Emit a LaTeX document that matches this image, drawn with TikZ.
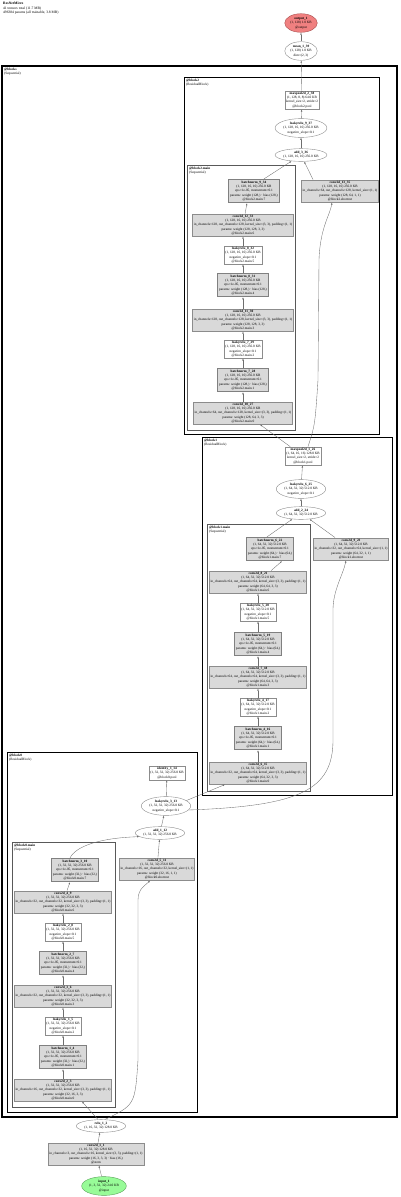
\documentclass[tikz,border=0pt]{standalone}
\usepackage{fontspec}
\setmainfont{Liberation Serif}
\definecolor{OpFill}{RGB}{217,217,217}
\definecolor{OpLine}{RGB}{140,140,140}
\definecolor{InGreen}{RGB}{152,251,152}
\definecolor{InLine}{RGB}{90,160,90}
\definecolor{OutRed}{RGB}{240,128,128}
\definecolor{OutLine}{RGB}{170,80,80}
\definecolor{EdgeGray}{RGB}{110,110,110}
\usepackage{tikz}
\usetikzlibrary{
    shapes.geometric,
    arrows.meta,
}

\begin{document}
\begin{tikzpicture}[x=1pt, y=-1pt,
    tiny/.style={font=\fontsize{3.4}{4.3}\selectfont},
    opbox/.style={rectangle, draw=OpLine, fill=OpFill, line width=0.4pt, inner sep=1.2pt, align=center, tiny},
    normbox/.style={opbox, draw=black!50, line width=1pt, inner sep=1.5pt},
    actbox/.style={opbox, fill=white},
    opoval/.style={ellipse, draw=OpLine, fill=white, line width=0.4pt, inner sep=0.8pt, align=center, tiny},
    inoval/.style={opoval, fill=InGreen, draw=InLine},
    outoval/.style={opoval, fill=OutRed, draw=OutLine},
    grp/.style={draw=black, line width=0.8pt},
    subgrp/.style={draw=black!65, line width=0.9pt},
    grplbl/.style={anchor=north west, align=left, inner sep=1pt, tiny},
    arr/.style={-{Latex[length=2.2pt, width=1.6pt]}, line width=0.35pt, draw=EdgeGray}
]
    \useasboundingbox (0,0) rectangle (400,1197);
    \node[grplbl, font=\fontsize{3.6}{4.4}\selectfont] (title) at (2,1)
        {\textbf{ResNetMicro}\\41 tensors total (11.7 MB)\\496384 params (all trainable, 3.8 MB)};

    % groups
    \draw[grp, line width=1.1pt] (2,66) rectangle (397,1117);
    \node[grplbl] (lblblocks) at (3,67) {\textbf{@blocks}\\(Sequential)};
    \draw[grp] (184,77) rectangle (379,434);
    \node[grplbl] (lblb2) at (185,78) {\textbf{@block2}\\(ResidualBlock)};
    \draw[subgrp] (187,165) rectangle (295,430);
    \node[grplbl] (lblb2m) at (188,166) {\textbf{@block2.main}\\(Sequential)};
    \draw[grp] (202,437) rectangle (392,795);
    \node[grplbl] (lblb1) at (203,438) {\textbf{@block1}\\(ResidualBlock)};
    \draw[subgrp] (207,524) rectangle (310,791);
    \node[grplbl] (lblb1m) at (208,525) {\textbf{@block1.main}\\(Sequential)};
    \draw[grp] (7,752) rectangle (197,1112);
    \node[grplbl] (lblb0) at (8,753) {\textbf{@block0}\\(ResidualBlock)};
    \draw[subgrp] (12,842) rectangle (115,1107);
    \node[grplbl] (lblb0m) at (13,843) {\textbf{@block0.main}\\(Sequential)};

    % output side
    \node[outoval] (out1) at (301,23) {\textbf{output\_1}\\(1, 128) 1.0 KB\\@output};
    \node[opoval] (mean39) at (301,51) {\textbf{mean\_1\_39}\\(1, 128) 1.0 KB\\dim=(2, 3)};

    % block2
    \node[actbox] (pool38) at (302,100) {\textbf{maxpool2d\_2\_38}\\(1, 128, 8, 8) 64.0 KB\\kernel\_size=2, stride=2\\@block2.pool};
    \node[opoval] (lrelu37) at (301,128) {\textbf{leakyrelu\_9\_37}\\(1, 128, 16, 16) 256.0 KB\\negative\_slope=0.1};
    \node[opoval] (add36) at (301,155) {\textbf{add\_3\_36}\\(1, 128, 16, 16) 256.0 KB};
    \node[normbox] (bn34) at (254,191) {\textbf{batchnorm\_9\_34}\\(1, 128, 16, 16) 256.0 KB\\eps=1e-05, momentum=0.1\\params: weight (128,) · bias (128,)\\@block2.main.7};
    \node[opbox] (conv35) at (340,191) {\textbf{conv2d\_13\_35}\\(1, 128, 16, 16) 256.0 KB\\in\_channels=64, out\_channels=128, kernel\_size=(1, 1)\\params: weight (128, 64, 1, 1)\\@block2.shortcut};
    \node[opbox] (conv33) at (243,225) {\textbf{conv2d\_12\_33}\\(1, 128, 16, 16) 256.0 KB\\in\_channels=128, out\_channels=128, kernel\_size=(3, 3), padding=(1, 1)\\params: weight (128, 128, 3, 3)\\@block2.main.6};
    \node[actbox] (lrelu32) at (243,255) {\textbf{leakyrelu\_8\_32}\\(1, 128, 16, 16) 256.0 KB\\negative\_slope=0.1\\@block2.main.5};
    \node[normbox] (bn31) at (243,285) {\textbf{batchnorm\_8\_31}\\(1, 128, 16, 16) 256.0 KB\\eps=1e-05, momentum=0.1\\params: weight (128,) · bias (128,)\\@block2.main.4};
    \node[opbox] (conv30) at (243,320) {\textbf{conv2d\_11\_30}\\(1, 128, 16, 16) 256.0 KB\\in\_channels=128, out\_channels=128, kernel\_size=(3, 3), padding=(1, 1)\\params: weight (128, 128, 3, 3)\\@block2.main.3};
    \node[actbox] (lrelu29) at (243,349) {\textbf{leakyrelu\_7\_29}\\(1, 128, 16, 16) 256.0 KB\\negative\_slope=0.1\\@block2.main.2};
    \node[normbox] (bn28) at (243,380) {\textbf{batchnorm\_7\_28}\\(1, 128, 16, 16) 256.0 KB\\eps=1e-05, momentum=0.1\\params: weight (128,) · bias (128,)\\@block2.main.1};
    \node[opbox] (conv27) at (243,413) {\textbf{conv2d\_10\_27}\\(1, 128, 16, 16) 256.0 KB\\in\_channels=64, out\_channels=128, kernel\_size=(3, 3), padding=(1, 1)\\params: weight (128, 64, 3, 3)\\@block2.main.0};

    % block1
    \node[actbox] (pool26) at (303,456) {\textbf{maxpool2d\_1\_26}\\(1, 64, 16, 16) 128.0 KB\\kernel\_size=2, stride=2\\@block1.pool};
    \node[opoval] (lrelu25) at (301,489) {\textbf{leakyrelu\_6\_25}\\(1, 64, 32, 32) 512.0 KB\\negative\_slope=0.1};
    \node[opoval] (add24) at (301,513) {\textbf{add\_2\_24}\\(1, 64, 32, 32) 512.0 KB};
    \node[normbox] (bn22) at (270,549) {\textbf{batchnorm\_6\_22}\\(1, 64, 32, 32) 512.0 KB\\eps=1e-05, momentum=0.1\\params: weight (64,) · bias (64,)\\@block1.main.7};
    \node[opbox] (conv23) at (351,549) {\textbf{conv2d\_9\_23}\\(1, 64, 32, 32) 512.0 KB\\in\_channels=32, out\_channels=64, kernel\_size=(1, 1)\\params: weight (64, 32, 1, 1)\\@block1.shortcut};
    \node[opbox] (conv21) at (258,582) {\textbf{conv2d\_8\_21}\\(1, 64, 32, 32) 512.0 KB\\in\_channels=64, out\_channels=64, kernel\_size=(3, 3), padding=(1, 1)\\params: weight (64, 64, 3, 3)\\@block1.main.6};
    \node[actbox] (lrelu20) at (258,612) {\textbf{leakyrelu\_5\_20}\\(1, 64, 32, 32) 512.0 KB\\negative\_slope=0.1\\@block1.main.5};
    \node[normbox] (bn19) at (258,644) {\textbf{batchnorm\_5\_19}\\(1, 64, 32, 32) 512.0 KB\\eps=1e-05, momentum=0.1\\params: weight (64,) · bias (64,)\\@block1.main.4};
    \node[opbox] (conv18) at (258,677) {\textbf{conv2d\_7\_18}\\(1, 64, 32, 32) 512.0 KB\\in\_channels=64, out\_channels=64, kernel\_size=(3, 3), padding=(1, 1)\\params: weight (64, 64, 3, 3)\\@block1.main.3};
    \node[actbox] (lrelu17) at (258,707) {\textbf{leakyrelu\_4\_17}\\(1, 64, 32, 32) 512.0 KB\\negative\_slope=0.1\\@block1.main.2};
    \node[normbox] (bn16) at (258,738) {\textbf{batchnorm\_4\_16}\\(1, 64, 32, 32) 512.0 KB\\eps=1e-05, momentum=0.1\\params: weight (64,) · bias (64,)\\@block1.main.1};
    \node[opbox] (conv15) at (258,773) {\textbf{conv2d\_6\_15}\\(1, 64, 32, 32) 512.0 KB\\in\_channels=32, out\_channels=64, kernel\_size=(3, 3), padding=(1, 1)\\params: weight (64, 32, 3, 3)\\@block1.main.0};

    % block0
    \node[actbox] (ident14) at (167,773) {\textbf{identity\_1\_14}\\(1, 32, 32, 32) 256.0 KB\\@block0.pool};
    \node[opoval] (lrelu13) at (166,806) {\textbf{leakyrelu\_3\_13}\\(1, 32, 32, 32) 256.0 KB\\negative\_slope=0.1};
    \node[opoval] (add12) at (160,833) {\textbf{add\_1\_12}\\(1, 32, 32, 32) 256.0 KB};
    \node[normbox] (bn10) at (75,870) {\textbf{batchnorm\_3\_10}\\(1, 32, 32, 32) 256.0 KB\\eps=1e-05, momentum=0.1\\params: weight (32,) · bias (32,)\\@block0.main.7};
    \node[opbox] (conv11) at (157,869) {\textbf{conv2d\_5\_11}\\(1, 32, 32, 32) 256.0 KB\\in\_channels=16, out\_channels=32, kernel\_size=(1, 1)\\params: weight (32, 16, 1, 1)\\@block0.shortcut};
    \node[opbox] (conv9) at (63,902) {\textbf{conv2d\_4\_9}\\(1, 32, 32, 32) 256.0 KB\\in\_channels=32, out\_channels=32, kernel\_size=(3, 3), padding=(1, 1)\\params: weight (32, 32, 3, 3)\\@block0.main.6};
    \node[actbox] (lrelu8) at (63,932) {\textbf{leakyrelu\_2\_8}\\(1, 32, 32, 32) 256.0 KB\\negative\_slope=0.1\\@block0.main.5};
    \node[normbox] (bn7) at (63,963) {\textbf{batchnorm\_2\_7}\\(1, 32, 32, 32) 256.0 KB\\eps=1e-05, momentum=0.1\\params: weight (32,) · bias (32,)\\@block0.main.4};
    \node[opbox] (conv6) at (63,996) {\textbf{conv2d\_3\_6}\\(1, 32, 32, 32) 256.0 KB\\in\_channels=32, out\_channels=32, kernel\_size=(3, 3), padding=(1, 1)\\params: weight (32, 32, 3, 3)\\@block0.main.3};
    \node[actbox] (lrelu5) at (63,1026) {\textbf{leakyrelu\_1\_5}\\(1, 32, 32, 32) 256.0 KB\\negative\_slope=0.1\\@block0.main.2};
    \node[normbox] (bn4) at (63,1057) {\textbf{batchnorm\_1\_4}\\(1, 32, 32, 32) 256.0 KB\\eps=1e-05, momentum=0.1\\params: weight (32,) · bias (32,)\\@block0.main.1};
    \node[opbox] (conv3) at (63,1090) {\textbf{conv2d\_2\_3}\\(1, 32, 32, 32) 256.0 KB\\in\_channels=16, out\_channels=32, kernel\_size=(3, 3), padding=(1, 1)\\params: weight (32, 16, 3, 3)\\@block0.main.0};

    % stem
    \node[opoval] (relu2) at (101,1126) {\textbf{relu\_1\_2}\\(1, 16, 32, 32) 128.0 KB};
    \node[opbox] (conv1) at (96,1154) {\textbf{conv2d\_1\_1}\\(1, 16, 32, 32) 128.0 KB\\in\_channels=3, out\_channels=16, kernel\_size=(3, 3), padding=(1, 1)\\params: weight (16, 3, 3, 3) · bias (16,)\\@stem};
    \node[inoval] (in1) at (104,1186) {\textbf{input\_1}\\(1, 3, 32, 32) 24.0 KB\\@input};

    % edges
    \draw[arr] (in1) -- (conv1);
    \draw[arr] (conv1) -- (relu2);
    \draw[arr] (relu2.115) -- ([xshift=19pt]conv3.south);
    \draw[arr] (relu2.60) .. controls (135,1105) .. (138,1060) -- (138,900)
        .. controls (138,888) and (146,885) .. ([xshift=-7pt]conv11.south);
    \draw[arr] (conv3) -- (bn4);
    \draw[arr] (bn4) -- (lrelu5);
    \draw[arr] (lrelu5) -- (conv6);
    \draw[arr] (conv6) -- (bn7);
    \draw[arr] (bn7) -- (lrelu8);
    \draw[arr] (lrelu8) -- (conv9);
    \draw[arr] (conv9) -- ([xshift=-5pt]bn10.south);
    \draw[arr] ([xshift=-5pt]bn10.north) .. controls (76,846) and (100,838) .. (add12.190);
    \draw[arr] (conv11) -- (add12);
    \draw[arr] (add12) -- (lrelu13);
    \draw[arr] (lrelu13) -- (ident14);
    \draw[arr] (lrelu13.15) -- ([xshift=-33pt]conv15.south);
    \draw[arr] (lrelu13.-10) .. controls (300,806) and (333,790) .. (333,740) -- (333,610)
        .. controls (333,590) and (343,575) .. ([xshift=-5pt]conv23.south);
    \draw[arr] (conv15) -- (bn16);
    \draw[arr] (bn16) -- (lrelu17);
    \draw[arr] (lrelu17) -- (conv18);
    \draw[arr] (conv18) -- (bn19);
    \draw[arr] (bn19) -- (lrelu20);
    \draw[arr] (lrelu20) -- (conv21);
    \draw[arr] (conv21) -- ([xshift=12pt]bn22.south);
    \draw[arr] ([xshift=-3pt]bn22.north) -- (add24);
    \draw[arr] (conv23) -- (add24);
    \draw[arr] (add24) -- (lrelu25);
    \draw[arr] (lrelu25) -- (pool26);
    \draw[arr] (pool26) -- ([xshift=17pt]conv27.south);
    \draw[arr] ([xshift=5pt]pool26.north) .. controls (315,425) .. (318,380) -- (319,260)
        .. controls (320,228) and (330,215) .. ([xshift=-8pt]conv35.south);
    \draw[arr] (conv27) -- (bn28);
    \draw[arr] (bn28) -- (lrelu29);
    \draw[arr] (lrelu29) -- (conv30);
    \draw[arr] (conv30) -- (bn31);
    \draw[arr] (bn31) -- (lrelu32);
    \draw[arr] (lrelu32) -- (conv33);
    \draw[arr] (conv33) -- ([xshift=-7pt]bn34.south);
    \draw[arr] ([xshift=10pt]bn34.north) -- (add36);
    \draw[arr] ([xshift=-27pt]conv35.north) -- (add36);
    \draw[arr] (add36) -- (lrelu37);
    \draw[arr] (lrelu37) -- (pool38);
    \draw[arr] (pool38) -- (mean39);
    \draw[arr] (mean39) -- (out1);
\end{tikzpicture}
\end{document}
